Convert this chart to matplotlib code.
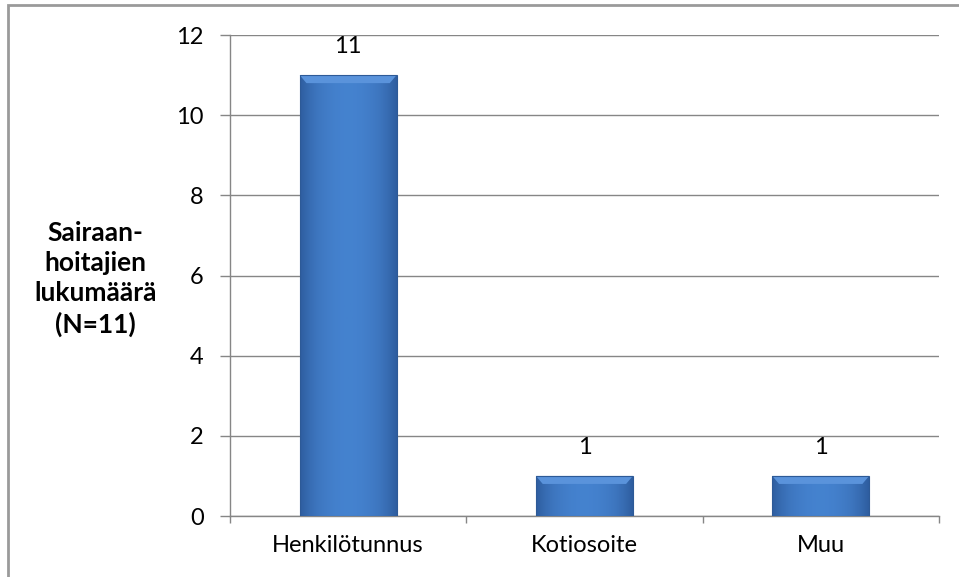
import numpy as np
import matplotlib.pyplot as plt
from matplotlib.patches import Rectangle, Polygon

categories = ['Henkilötunnus', 'Kotiosoite', 'Muu']
values = [11, 1, 1]
y_ticks = [0, 2, 4, 6, 8, 10, 12]
y_label = 'Sairaan-\nhoitajien\nlukumäärä\n(N=11)'

plt.rcParams['font.family'] = ['Lato', 'DejaVu Sans']

fig = plt.figure(figsize=(9.59, 5.77), dpi=100)
ax = fig.add_axes([0.2398, 0.1057, 0.979 - 0.2398, 0.9393 - 0.1057])

grey = '#868686'
fs = 17
x = np.arange(len(categories))
bars = ax.bar(x, values, width=0.41, color='#3F7CCB', edgecolor='none', zorder=3)

# horizontal shading of each bar: darker at the edges, lighter in the middle
shade = np.array([0.0, 0.35, 0.6, 0.75, 0.85, 0.9, 0.9, 0.85, 0.75, 0.6, 0.35, 0.0])
dark = np.array([0x2F, 0x5E, 0xA0]) / 255
light = np.array([0x47, 0x86, 0xD4]) / 255
cols = dark[None, :] + np.interp(np.linspace(0, 1, 100), np.linspace(0, 1, len(shade)), shade)[:, None] * (light - dark)[None, :]

for b in bars:
    x0, w, h = b.get_x(), b.get_width(), b.get_height()
    im = ax.imshow(cols[None, :, :], extent=(x0, x0 + w, 0, h), aspect='auto', zorder=4, interpolation='bilinear')
    im.set_clip_path(b)
    # bevel on top edge
    bev = 0.07 * w
    bh = 0.2
    ax.add_patch(Polygon([(x0, h), (x0 + w, h), (x0 + w - bev, h - bh), (x0 + bev, h - bh)],
                         closed=True, facecolor='#5A93DB', edgecolor='none', zorder=5))
    ax.add_patch(Rectangle((x0, 0), w, h, facecolor='none', edgecolor='#2D5A97', linewidth=0.8, zorder=6))
    ax.text(x0 + w / 2, h + 0.72, str(int(h)), ha='center', va='center', fontsize=fs, zorder=7)

ax.set_xlim(-0.5, len(categories) - 0.5)
ax.set_ylim(0, 12)
ax.set_yticks(y_ticks)
ax.yaxis.grid(True, color=grey, linewidth=1, zorder=0)
ax.set_axisbelow(True)

ax.set_xticks(x)
ax.set_xticklabels(categories)
ax.set_xticks(np.arange(len(categories) + 1) - 0.5, minor=True)
ax.tick_params(axis='x', which='major', length=0, pad=14, labelsize=fs)
ax.tick_params(axis='x', which='minor', length=5, color=grey, width=1)
ax.tick_params(axis='y', length=7, color=grey, width=1, labelsize=fs, pad=12)

for s in ['top', 'right']:
    ax.spines[s].set_visible(False)
for s in ['left', 'bottom']:
    ax.spines[s].set_color(grey)
    ax.spines[s].set_linewidth(1)

fig.text(0.0995, 0.516, y_label, ha='center', va='center', fontsize=19,
         fontweight='bold', linespacing=1.3)

# outer frame of the chart
fig.patches.append(Rectangle((8 / 959, -0.05), 1.1, 1 - 5 / 577 + 0.05, transform=fig.transFigure,
                             facecolor='none', edgecolor='#9a9a9a', linewidth=2))

fig.savefig('out.png', dpi=100)
